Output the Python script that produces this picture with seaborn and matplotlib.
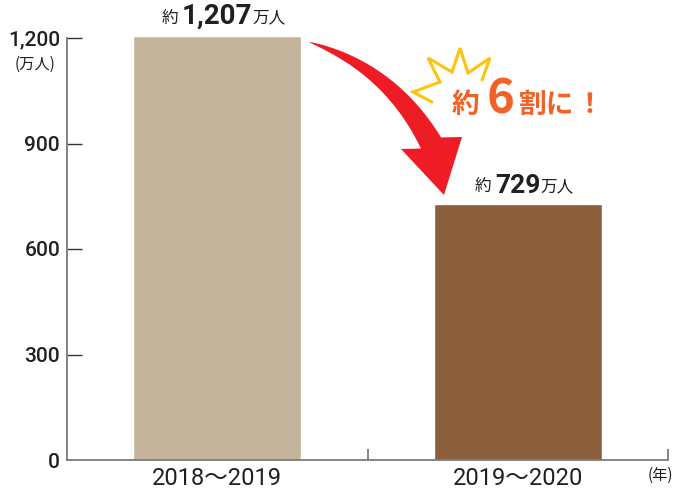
import numpy as np
import matplotlib
matplotlib.use("Agg")
import matplotlib.pyplot as plt
import seaborn as sns
from matplotlib.patches import Polygon

sns.set_theme(style="ticks")
plt.rcParams["font.family"] = ["Roboto", "Noto Sans CJK JP", "DejaVu Sans"]

# データ
periods = ["2018～2019", "2019～2020"]
visitors = [1207, 729]          # 万人
value_text = ["1,207", "729"]
bar_colors = ["#C4B49C", "#8B5E3C"]
y_ticks = [0, 300, 600, 900, 1200]
y_ticklabels = ["0", "300", "600", "900", "1,200"]

TEXT = "#231F20"
ORANGE = "#F26126"
W, H = 682, 491
cjk = ["Noto Sans CJK JP"]

fig = plt.figure(figsize=(W / 100, H / 100), dpi=100)
ymax = 1240
px_per_unit = 422 / 1200
ax = fig.add_axes([67 / W, (H - 460) / H, (668 - 67) / W, ymax * px_per_unit / H])

sns.barplot(x=periods, y=visitors, hue=periods, palette=bar_colors,
            legend=False, width=0.56, saturation=1, ax=ax)

ax.set_xlim(-0.5, 1.5)
ax.set_ylim(0, ymax)
ax.set_xlabel("")
ax.set_ylabel("")

# 軸
for s in ["top", "right"]:
    ax.spines[s].set_visible(False)
ax.spines["left"].set_bounds(0, 1200)
for s in ["left", "bottom"]:
    ax.spines[s].set_color("#7a7a7a")
    ax.spines[s].set_linewidth(1.3)

ax.set_yticks(y_ticks)
ax.set_yticklabels(y_ticklabels)
ax.tick_params(axis="y", direction="in", length=11, width=1, color="#333333",
               labelsize=15, labelcolor=TEXT, pad=5)
ax.yaxis.get_major_ticks()[0].tick1line.set_visible(False)
for lab in ax.get_yticklabels():
    lab.set_fontweight("medium")

ax.set_xticks([0, 1])
ax.set_xticklabels(periods)
ax.tick_params(axis="x", length=0, labelsize=17, labelcolor=TEXT, pad=5)
ax.set_xticks([0.5, 1.5], minor=True)
ax.tick_params(axis="x", which="minor", direction="in", length=8, width=1.3,
               color="#7a7a7a")

ax.text(-0.053, 1150, "(万人)", transform=ax.get_yaxis_transform(),
        ha="center", va="top", fontsize=11, color=TEXT, family=cjk)
ax.text(1.473, -20, "(年)", ha="center", va="top", fontsize=11,
        color=TEXT, family=cjk)

# 値ラベル
sizes = [20, 19]
for i, (v, t) in enumerate(zip(visitors, value_text)):
    num = ax.annotate(t, xy=(i, v), xytext=(0, 4), textcoords="offset points",
                      ha="center", va="bottom", fontsize=sizes[i],
                      fontweight="bold", color=TEXT)
    ax.annotate("約 ", xy=(0, 0.12), xycoords=num, ha="right", va="bottom",
                fontsize=12, color=TEXT, family=cjk)
    ax.annotate("万人", xy=(1, 0.12), xycoords=num, ha="left", va="bottom",
                fontsize=12, color=TEXT, family=cjk)

# 矢印・吹き出し（ピクセル座標のオーバーレイ）
ov = fig.add_axes([0, 0, 1, 1])
ov.set_xlim(0, W)
ov.set_ylim(H, 0)
ov.axis("off")

p0, p1, p2 = np.array([309, 42]), np.array([390, 68]), np.array([431, 143])
t = np.linspace(0, 1, 60)[:, None]
curve = (1 - t) ** 2 * p0 + 2 * (1 - t) * t * p1 + t ** 2 * p2
tang = 2 * (1 - t) * (p1 - p0) + 2 * t * (p2 - p1)
tang = tang / np.linalg.norm(tang, axis=1, keepdims=True)
norm = np.column_stack([-tang[:, 1], tang[:, 0]])
half = 11.5 * t[:, 0] ** 0.75
right = curve - norm * half[:, None]
left = curve + norm * half[:, None]
head = np.array([[462, 137], [444, 195], [401, 149]])
pts = np.vstack([right, head, left[::-1]])
ov.add_patch(Polygon(pts, closed=True, facecolor="#EE1C25", edgecolor="none"))

star = np.array([[432, 102], [413, 92], [440, 82], [428, 58], [452, 72],
                 [460, 48], [468, 73], [490, 58], [482, 80]])
ov.plot(star[:, 0], star[:, 1], color="#FFC20E", lw=2.2, solid_joinstyle="miter")

ov.text(452, 113, "約", fontsize=20, fontweight="bold", color=ORANGE,
        family=cjk, va="baseline", ha="left")
ov.text(487, 113, "6", fontsize=34, fontweight="bold", color=ORANGE,
        family=cjk, va="baseline", ha="left")
ov.text(519, 113, "割に", fontsize=20, fontweight="bold", color=ORANGE,
        family=cjk, va="baseline", ha="left")
ov.text(576, 113, "！", fontsize=20, fontweight="bold", color=ORANGE,
        family=cjk, va="baseline", ha="left")

fig.savefig("out.png", dpi=100)
